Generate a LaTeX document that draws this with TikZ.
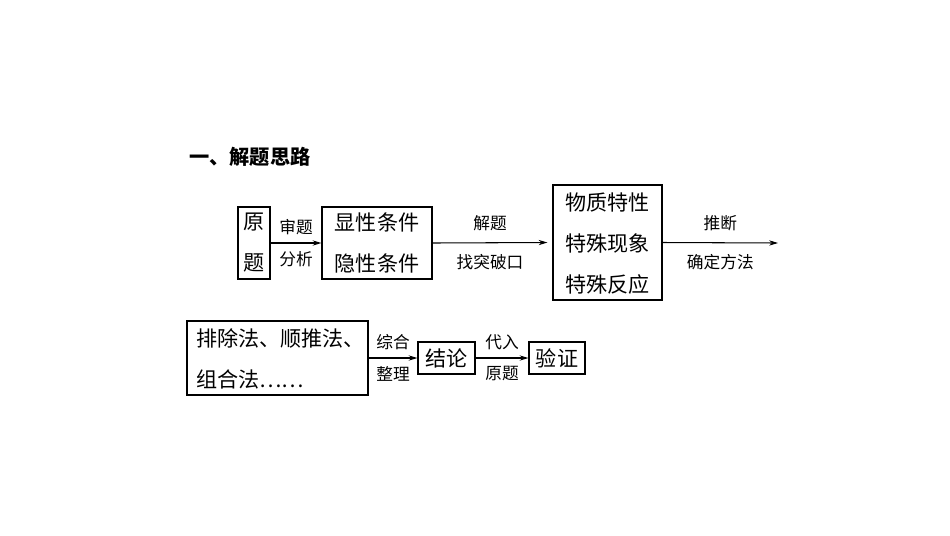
\documentclass[tikz,border=0pt]{standalone}
\usepackage{fontspec}
\setmainfont{Noto Sans CJK SC}
\usetikzlibrary{arrows.meta}
\begin{document}
\begin{tikzpicture}[x=0.02cm,y=-0.02cm,
  bx/.style={draw,line width=0.7pt,inner sep=0pt},
  big/.style={font=\fontsize{12}{18}\selectfont},
  sm/.style={font=\fontsize{9.5}{12}\selectfont},
  ar/.style={-{Stealth[length=5pt,width=3pt]},line width=0.6pt}]
\useasboundingbox[fill=white] (0,0) rectangle (950,535);
\node[anchor=west,font=\fontsize{11.5}{14}\selectfont\bfseries] (t) at (183,157) {一、解题思路};
% row 1
\node[bx,minimum width=32*0.02cm,minimum height=72*0.02cm] (a) at (254,243) {};
\node[big] (a1) at (254,222) {原};
\node[big] (a2) at (254,263) {题};
\node[bx,minimum width=110*0.02cm,minimum height=72*0.02cm] (b) at (377,243) {};
\node[big] (b1) at (377,222) {显性条件};
\node[big] (b2) at (377,263) {隐性条件};
\node[bx,minimum width=109*0.02cm,minimum height=115*0.02cm] (c) at (607.5,242.5) {};
\node[big] (c1) at (607.5,202) {物质特性};
\node[big] (c2) at (607.5,243) {特殊现象};
\node[big] (c3) at (607.5,284) {特殊反应};
\coordinate (e) at (778,243);
\draw[ar] (a.east) -- node[sm,above=1pt]{审题} node[sm,below=1pt]{分析} (b.west);
\draw[ar] (b.east) -- node[sm,above=3pt]{解题} node[sm,below=3pt]{找突破口} ([xshift=-5*0.02cm]c.west);
\draw[ar] (c.east) -- node[sm,above=3pt]{推断} node[sm,below=3pt]{确定方法} (e);
% row 2
\node[bx,minimum width=181*0.02cm,minimum height=74*0.02cm] (d) at (277.5,358) {};
\node[big,anchor=west] (d1) at (190,338) {排除法、顺推法、};
\node[big,anchor=west] (d2) at (190,379) {组合法……};
\node[bx,big,minimum width=57*0.02cm,minimum height=32*0.02cm] (f) at (446.5,358) {结论};
\node[bx,big,minimum width=56*0.02cm,minimum height=32*0.02cm] (g) at (557,358) {验证};
\draw[ar] (d.east) -- node[sm,above=1pt]{综合} node[sm,below=1pt]{整理} (f.west);
\draw[ar] (f.east) -- node[sm,above=1pt]{代入} node[sm,below=1pt]{原题} (g.west);
\end{tikzpicture}
\end{document}
